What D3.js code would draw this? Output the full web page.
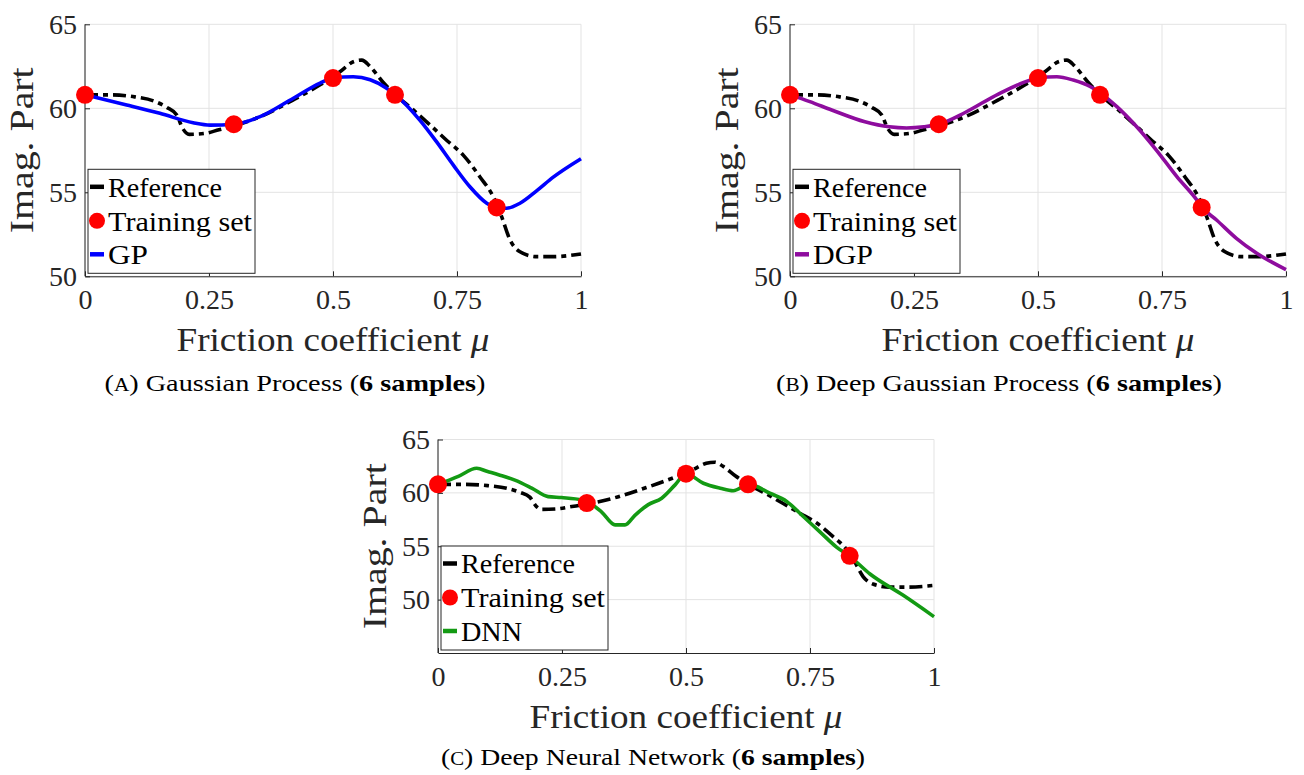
<!DOCTYPE html>
<html>
<head>
<meta charset="utf-8">
<script src="https://cdn.jsdelivr.net/npm/d3@7"></script>
<style>
  html, body { margin: 0; padding: 0; background: #ffffff; }
  svg { display: block; }
</style>
</head>
<body>
<svg id="chart" width="1304" height="775" font-family="Liberation Serif"></svg>
<script>
// ---------------- DATA ----------------
const xTicks = [0, 0.25, 0.5, 0.75, 1];
const xTickLabels = ["0", "0.25", "0.5", "0.75", "1"];
const yTicks = [50, 55, 60, 65];
const yTickLabels = ["50", "55", "60", "65"];

// Reference curve (black dash-dot), shared by all panels
const refX = [0, 0.05, 0.1, 0.14, 0.165, 0.185, 0.197, 0.21, 0.24, 0.27, 0.3, 0.353, 0.42, 0.474, 0.514, 0.541, 0.558, 0.575, 0.6, 0.626, 0.662, 0.696, 0.729, 0.763, 0.796, 0.823, 0.84, 0.857, 0.877, 0.911, 0.944, 1];
const refY = [60.8, 60.8, 60.68, 60.42, 60.05, 59.6, 58.8, 58.45, 58.5, 58.72, 58.95, 59.5, 60.5, 61.4, 62.18, 62.77, 62.87, 62.48, 61.58, 60.8, 59.9, 59.0, 58.1, 57.2, 55.93, 54.74, 53.55, 52.16, 51.46, 51.17, 51.17, 51.33];

// Training set (red dots)
const trainX = [0, 0.3, 0.5, 0.625, 0.83];
const trainY = [60.8, 59.05, 61.8, 60.8, 54.1];

// Gaussian Process (blue)
const gpX = [0, 0.084, 0.151, 0.218, 0.252, 0.3, 0.353, 0.42, 0.474, 0.5, 0.541, 0.575, 0.608, 0.626, 0.675, 0.709, 0.743, 0.776, 0.81, 0.828, 0.85, 0.877, 0.911, 0.944, 1];
const gpY = [60.8, 60.2, 59.7, 59.14, 59.0, 59.05, 59.5, 60.6, 61.5, 61.8, 61.88, 61.7, 61.2, 60.8, 59.3, 58.0, 56.6, 55.33, 54.35, 54.1, 54.05, 54.35, 55.1, 55.9, 57.0];

// Deep Gaussian Process (purple)
const dgpX = [0, 0.04, 0.084, 0.151, 0.2, 0.235, 0.27, 0.3, 0.353, 0.42, 0.487, 0.501, 0.538, 0.571, 0.605, 0.628, 0.659, 0.699, 0.739, 0.78, 0.82, 0.831, 0.86, 0.9, 0.941, 1];
const dgpY = [60.8, 60.4, 59.9, 59.2, 58.9, 58.83, 58.9, 59.05, 59.75, 60.85, 61.7, 61.8, 61.88, 61.68, 61.3, 60.85, 60.1, 58.9, 57.5, 55.93, 54.55, 54.1, 53.35, 52.26, 51.37, 50.4];

// Deep Neural Network (green)
const dnnX = [0, 0.041, 0.078, 0.1, 0.122, 0.155, 0.189, 0.222, 0.249, 0.29, 0.3, 0.33, 0.357, 0.377, 0.397, 0.424, 0.451, 0.478, 0.5, 0.535, 0.569, 0.595, 0.627, 0.669, 0.703, 0.737, 0.77, 0.804, 0.829, 0.871, 0.938, 1];
const dnnY = [60.8, 61.55, 62.3, 62.0, 61.7, 61.2, 60.45, 59.65, 59.56, 59.34, 59.2, 58.2, 57.0, 57.0, 57.9, 58.9, 59.5, 60.75, 61.8, 60.9, 60.44, 60.2, 60.8, 59.97, 59.2, 57.76, 56.35, 54.9, 54.1, 52.4, 50.4, 48.4];

const legendLabels = ["Reference", "Training set"];
const captionLetters = ["A", "B", "C"];
const captionTitles = ["Gaussian Process", "Deep Gaussian Process", "Deep Neural Network"];
const captionBold = "6 samples";
const xLabel = "Friction coefficient ";
const xLabelSymbol = "\u03bc";
const yLabel = "Imag.  Part";

// ---------------- DRAWING ----------------
const FONT = "Liberation Serif";
const svg = d3.select("#chart");
const AXIS_COLOR = "#262626";
const GRID_COLOR = "#e3e3e3";

const zip = (xs, ys) => xs.map((x, i) => ({x, y: ys[i]}));

function drawPanel(cfg) {
  const g = svg.append("g");
  const x = d3.scaleLinear().domain([0, 1]).range([cfg.x0, cfg.x1]);
  const y = d3.scaleLinear().domain(cfg.yDomain).range([cfg.yBottom, cfg.yTop]);

  // grid
  g.append("g").selectAll("line").data(xTicks).join("line")
    .attr("x1", d => x(d)).attr("x2", d => x(d))
    .attr("y1", y(cfg.yDomain[0])).attr("y2", y(65))
    .attr("stroke", GRID_COLOR).attr("stroke-width", 1);
  g.append("g").selectAll("line").data(yTicks).join("line")
    .attr("x1", x(0)).attr("x2", x(1))
    .attr("y1", d => y(d)).attr("y2", d => y(d))
    .attr("stroke", GRID_COLOR).attr("stroke-width", 1);

  // axes
  const xAxis = d3.axisBottom(x).tickValues(xTicks)
    .tickFormat((d, i) => xTickLabels[i]).tickSizeInner(-5).tickSizeOuter(0).tickPadding(13);
  const yAxis = d3.axisLeft(y).tickValues(yTicks)
    .tickFormat((d, i) => yTickLabels[i]).tickSizeInner(-5).tickSizeOuter(0).tickPadding(8);
  const gx = g.append("g").attr("transform", `translate(0,${cfg.yBottom})`).call(xAxis);
  const gy = g.append("g").attr("transform", `translate(${cfg.x0},0)`).call(yAxis);
  [gx, gy].forEach(a => {
    a.attr("font-family", FONT).attr("font-size", 28);
    a.select(".domain").attr("stroke", AXIS_COLOR).attr("stroke-width", 1);
    a.selectAll(".tick line").attr("stroke", AXIS_COLOR).attr("stroke-width", 1);
    a.selectAll(".tick text").attr("fill", "#262626").attr("font-family", FONT);
  });
  gy.select(".domain").attr("d", `M0,${cfg.yBottom}V${y(65)}`);

  // axis labels
  const xl = g.append("text").attr("x", (cfg.x0 + cfg.x1) / 2).attr("y", cfg.yBottom + 75)
    .attr("text-anchor", "middle").attr("font-family", FONT).attr("font-size", 34)
    .attr("fill", "#262626").attr("textLength", 313).attr("lengthAdjust", "spacingAndGlyphs");
  xl.append("tspan").text(xLabel);
  xl.append("tspan").attr("font-style", "italic").text(xLabelSymbol);
  g.append("text").attr("transform", `translate(${cfg.x0 - 52},${(cfg.yBottom + cfg.yTop) / 2}) rotate(-90)`)
    .attr("text-anchor", "middle").attr("font-family", FONT).attr("font-size", 34)
    .attr("fill", "#262626").attr("textLength", 166).attr("lengthAdjust", "spacingAndGlyphs")
    .text(yLabel);

  const line = d3.line().x(d => x(d.x)).y(d => y(d.y)).curve(d3.curveMonotoneX);

  // reference
  g.append("path").datum(zip(refX, refY)).attr("d", line)
    .attr("fill", "none").attr("stroke", "#000").attr("stroke-width", 3.6)
    .attr("stroke-dasharray", "13,5,5,5");
  // model
  g.append("path").datum(zip(cfg.mx, cfg.my)).attr("d", line)
    .attr("fill", "none").attr("stroke", cfg.color).attr("stroke-width", 3.6)
    .attr("stroke-linejoin", "round");
  // training points
  g.append("g").selectAll("circle").data(zip(trainX, trainY)).join("circle")
    .attr("cx", d => x(d.x)).attr("cy", d => y(d.y)).attr("r", 9).attr("fill", "#ff0000");

  // legend
  const lw = 167, lh = 104;
  const lx = cfg.x0 + 3, ly = cfg.yBottom - 3 - lh;
  const lg = g.append("g");
  lg.append("rect").attr("x", lx).attr("y", ly).attr("width", lw).attr("height", lh)
    .attr("fill", "#fff").attr("stroke", AXIS_COLOR).attr("stroke-width", 1);
  const rows = [ly + 17.5, ly + 51.5, ly + 85];
  lg.append("line").attr("x1", lx + 2).attr("x2", lx + 16).attr("y1", rows[0]).attr("y2", rows[0])
    .attr("stroke", "#000").attr("stroke-width", 4.5);
  lg.append("circle").attr("cx", lx + 9).attr("cy", rows[1]).attr("r", 8).attr("fill", "#ff0000");
  lg.append("line").attr("x1", lx + 2).attr("x2", lx + 16).attr("y1", rows[2]).attr("y2", rows[2])
    .attr("stroke", cfg.color).attr("stroke-width", 4.5);
  const labels = [legendLabels[0], legendLabels[1], cfg.name];
  const widths = [114, 144, cfg.nameWidth];
  labels.forEach((t, i) => {
    lg.append("text").attr("x", lx + 20).attr("y", rows[i]).attr("dy", "0.36em")
      .attr("font-family", FONT).attr("font-size", 27).attr("fill", "#000")
      .attr("textLength", widths[i]).attr("lengthAdjust", "spacingAndGlyphs")
      .text(t);
  });

  // caption
  const cap = g.append("text").attr("x", cfg.capX).attr("y", cfg.capY)
    .attr("text-anchor", "middle").attr("font-family", FONT).attr("font-size", 24)
    .attr("fill", "#000").attr("textLength", cfg.capW).attr("lengthAdjust", "spacingAndGlyphs");
  cap.append("tspan").text("(");
  cap.append("tspan").attr("font-size", 18).text(captionLetters[cfg.idx]);
  cap.append("tspan").text(") " + captionTitles[cfg.idx] + " (");
  cap.append("tspan").attr("font-weight", "bold").text(captionBold);
  cap.append("tspan").text(")");
}

drawPanel({idx: 0, x0: 85, x1: 581, yTop: 24.3, yBottom: 276.3, yDomain: [50, 65],
  mx: gpX, my: gpY, color: "#0000ff", name: "GP", nameWidth: 40,
  capX: 295, capY: 391, capW: 381});
drawPanel({idx: 1, x0: 790, x1: 1286, yTop: 24.3, yBottom: 276.3, yDomain: [50, 65],
  mx: dgpX, my: dgpY, color: "#8e0c9e", name: "DGP", nameWidth: 60,
  capX: 999, capY: 391, capW: 446});
drawPanel({idx: 2, x0: 438, x1: 934, yTop: 439.5, yBottom: 653, yDomain: [45, 65],
  mx: dnnX, my: dnnY, color: "#139a13", name: "DNN", nameWidth: 61,
  capX: 653, capY: 765, capW: 424});
</script>
</body>
</html>
